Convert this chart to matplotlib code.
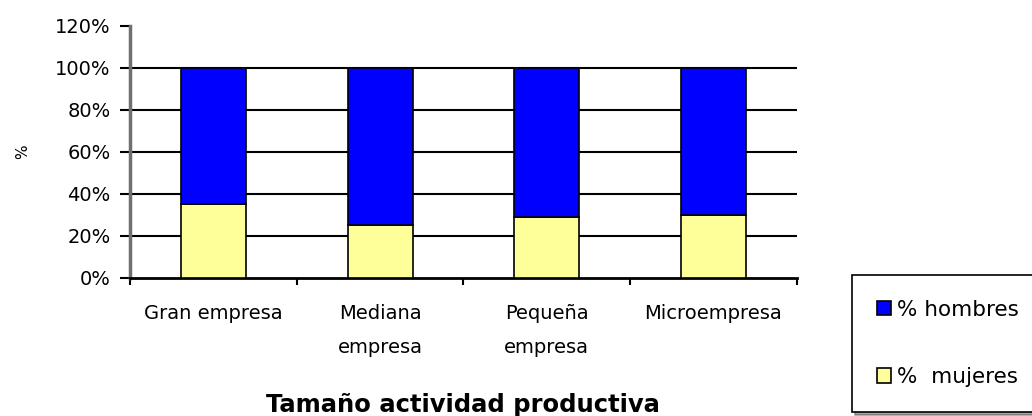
import numpy as np
import matplotlib.pyplot as plt
from matplotlib.ticker import PercentFormatter

plt.rcParams['font.family'] = ['DejaVu Sans']

categorias = ['Gran empresa', 'Mediana\nempresa', 'Pequeña\nempresa', 'Microempresa']
mujeres = [35, 25, 29, 30]
hombres = [65, 75, 71, 70]

fig = plt.figure(figsize=(10.32, 4.16), dpi=100)
ax = fig.add_axes([0.126, 0.332, 0.646, 0.606])

x = np.arange(len(categorias))
ax.bar(x, mujeres, width=0.39, color='#FFFF99', edgecolor='black', linewidth=1.2,
       label='%  mujeres', zorder=3)
ax.bar(x, hombres, bottom=mujeres, width=0.39, color='#0000FF', edgecolor='black',
       linewidth=1.2, label='% hombres', zorder=3)

ax.set_xlim(-0.5, len(categorias) - 0.5)
ax.set_ylim(0, 120)
ax.set_yticks(np.arange(0, 121, 20))
ax.yaxis.set_major_formatter(PercentFormatter(decimals=0))
for y in range(20, 101, 20):
    ax.axhline(y, color='black', linewidth=1.5, zorder=1)

ax.set_xticks(x)
ax.set_xticklabels(categorias, fontsize=14, linespacing=1.95)
ax.tick_params(axis='x', length=0, pad=19)
ax.set_xticks(np.arange(-0.5, len(categorias), 1), minor=True)
ax.tick_params(axis='x', which='minor', length=5, width=1.5, direction='out')
ax.tick_params(axis='y', labelsize=14, length=7, width=1.5, direction='out', pad=7)

for s in ['top', 'right']:
    ax.spines[s].set_visible(False)
ax.spines['left'].set_color('#707070')
ax.spines['left'].set_linewidth(2.5)
ax.spines['bottom'].set_linewidth(2)

ax.set_ylabel('%', fontsize=11, labelpad=18)
fig.text(463 / 1032, 1 - 405 / 416, 'Tamaño actividad productiva', fontsize=17.5,
         fontweight='bold', ha='center', va='center')

handles, labels = ax.get_legend_handles_labels()
leg = fig.legend(handles[::-1], labels[::-1], loc='upper left',
                 bbox_to_anchor=(852 / 1032, 1 - 275 / 416), fontsize=15.5,
                 frameon=True, fancybox=False, shadow=True, edgecolor='black',
                 handlelength=0.65, handleheight=0.65, handletextpad=0.3,
                 labelspacing=2.2, borderpad=1.15, borderaxespad=0)
leg.get_frame().set_linewidth(1.2)

fig.savefig('out.png', dpi=100)
